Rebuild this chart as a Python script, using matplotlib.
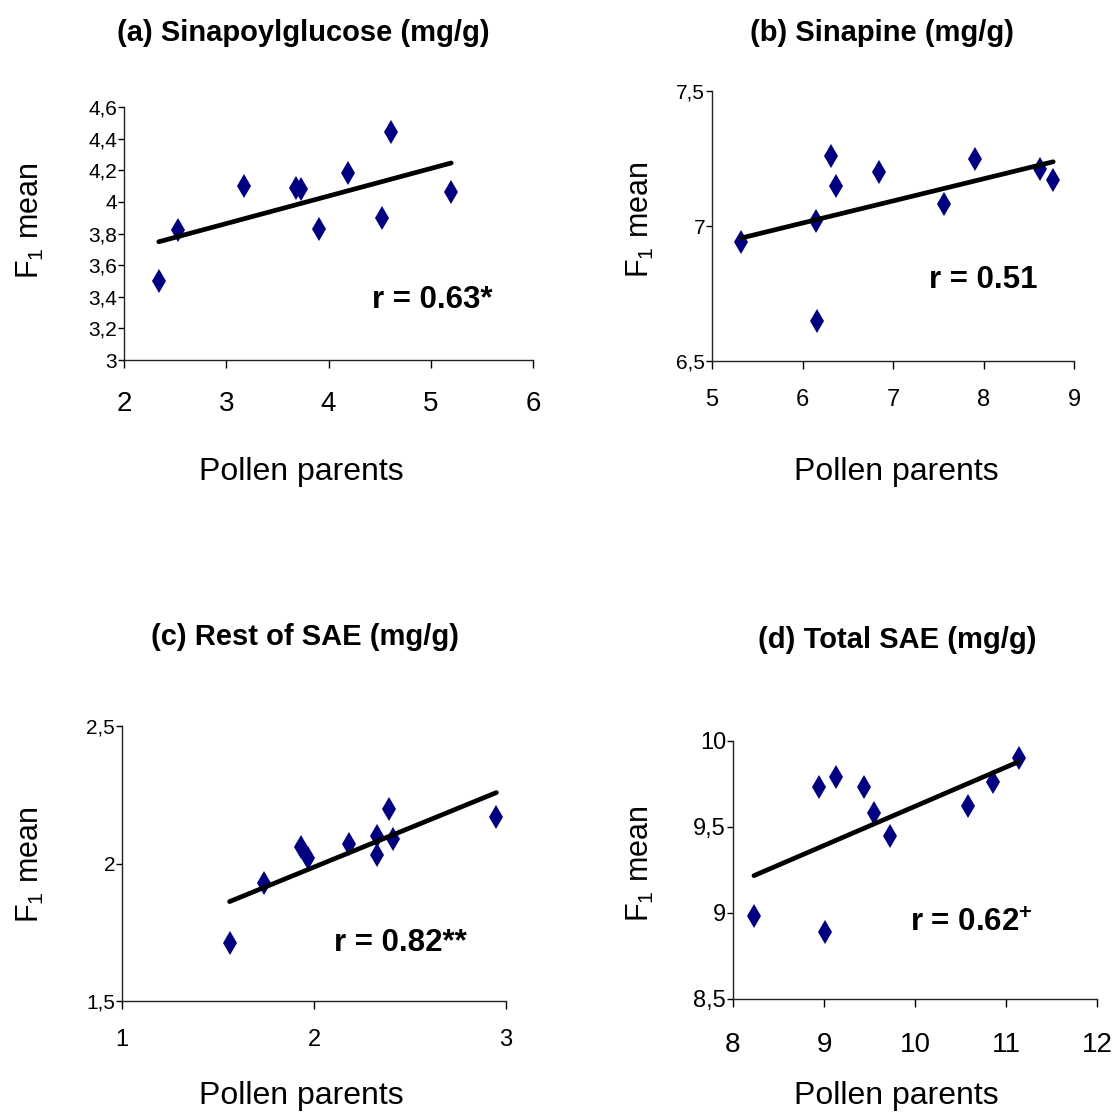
import numpy as np
import matplotlib
matplotlib.use("Agg")
import matplotlib.pyplot as plt

plt.rcParams['font.family'] = ['Liberation Sans', 'DejaVu Sans']
plt.rcParams['mathtext.fontset'] = 'custom'
plt.rcParams['mathtext.rm'] = 'Liberation Sans'
plt.rcParams['mathtext.bf'] = 'Liberation Sans:bold'

# data (pollen parents vs F1 mean)
sg_x = [2.34, 2.53, 3.17, 3.68, 3.73, 3.91, 4.19, 4.52, 4.61, 5.20]
sg_y = [3.50, 3.82, 4.10, 4.09, 4.08, 3.83, 4.18, 3.90, 4.44, 4.06]

sp_x = [5.32, 6.15, 6.16, 6.32, 6.37, 6.84, 7.56, 7.91, 8.62, 8.77]
sp_y = [6.94, 7.02, 6.65, 7.26, 7.15, 7.20, 7.08, 7.25, 7.21, 7.17]

rest_x = [1.56, 1.74, 1.93, 1.97, 2.18, 2.33, 2.33, 2.39, 2.41, 2.95]
rest_y = [1.71, 1.93, 2.06, 2.02, 2.07, 2.10, 2.03, 2.20, 2.09, 2.17]

tot_x = [8.23, 8.95, 9.01, 9.13, 9.44, 9.55, 9.72, 10.58, 10.86, 11.14]
tot_y = [8.98, 9.73, 8.89, 9.79, 9.73, 9.58, 9.45, 9.62, 9.76, 9.90]

titles = ["(a) Sinapoylglucose (mg/g)", "(b) Sinapine (mg/g)",
          "(c) Rest of SAE (mg/g)", "(d) Total SAE (mg/g)"]
r_labels = ["r = 0.63*", "r = 0.51", "r = 0.82**", r"r = 0.62$^{\mathbf{+}}$"]

sg_yticks = [3, 3.2, 3.4, 3.6, 3.8, 4, 4.2, 4.4, 4.6]
sg_ylabels = ["3", "3,2", "3,4", "3,6", "3,8", "4", "4,2", "4,4", "4,6"]
sp_yticks = [6.5, 7, 7.5]
sp_ylabels = ["6,5", "7", "7,5"]
rest_yticks = [1.5, 2, 2.5]
rest_ylabels = ["1,5", "2", "2,5"]
tot_yticks = [8.5, 9, 9.5, 10]
tot_ylabels = ["8,5", "9", "9,5", "10"]

W, H = 1116, 1113
fig = plt.figure(figsize=(W / 100, H / 100), dpi=100)

def px(x, y):
    return x / W, 1 - y / H

# axes boxes in pixels: left, top, right, bottom
boxes = [(124, 107, 533, 360), (712, 91, 1074, 361),
         (122, 726, 506, 1001), (733, 741, 1097, 999)]

panels = [
    (sg_x, sg_y, (2, 6), [2, 3, 4, 5, 6], sg_yticks, sg_ylabels, 20, 15, 16),
    (sp_x, sp_y, (5, 9), [5, 6, 7, 8, 9], sp_yticks, sp_ylabels, 17, 15, 14),
    (rest_x, rest_y, (1, 3), [1, 2, 3], rest_yticks, rest_ylabels, 17, 15, 14),
    (tot_x, tot_y, (8, 12), [8, 9, 10, 11, 12], tot_yticks, tot_ylabels, 20, 17, 18),
]

title_pos = [(303, 33), (882, 33), (305, 637), (897, 640)]
ylab_pos = [(30, 221), (640, 220), (30, 865), (640, 864)]
xlab_pos = [(301, 472), (896, 472), (301, 1096), (896, 1096)]
r_pos = [(372, 300), (929, 280), (334, 943), (910, 924)]

for i in range(4):
    xs, ys, xlim, xticks, yticks, ylabels, xfs, yfs, xpad = panels[i]
    l, t, r, b = boxes[i]
    ax = fig.add_axes([l / W, 1 - b / H, (r - l) / W, (b - t) / H])

    ax.plot(xs, ys, linestyle='none', marker='d', color='#000080',
            markersize=12, markeredgewidth=0)

    # linear trend line
    k, c = np.polyfit(xs, ys, 1)
    xx = np.array([min(xs), max(xs)])
    ax.plot(xx, k * xx + c, color='black', linewidth=3.4, solid_capstyle='round')

    ax.set_xlim(xlim)
    ax.set_ylim(yticks[0], yticks[-1])
    ax.set_xticks(xticks)
    ax.set_xticklabels([str(v) for v in xticks], fontsize=xfs)
    ax.set_yticks(yticks)
    ax.set_yticklabels(ylabels, fontsize=yfs)
    ax.spines['top'].set_visible(False)
    ax.spines['right'].set_visible(False)
    for s in ['left', 'bottom']:
        ax.spines[s].set_linewidth(1.0)
        ax.spines[s].set_color('#222222')
    ax.tick_params(axis='x', direction='out', length=6, width=1, pad=xpad)
    ax.tick_params(axis='y', direction='out', length=4, width=1, pad=1)
    ax.patch.set_alpha(0)

    fig.text(*px(*title_pos[i]), titles[i], fontsize=21, fontweight='bold',
             ha='center', va='center')
    fig.text(*px(*ylab_pos[i]), r"F$_\mathregular{1}$ mean", fontsize=22,
             rotation=90, ha='center', va='center')
    fig.text(*px(*xlab_pos[i]), "Pollen parents", fontsize=23,
             ha='center', va='center')
    fig.text(*px(*r_pos[i]), r_labels[i], fontsize=22.5, fontweight='bold',
             ha='left', va='center')

plt.savefig("out.png", dpi=100)
